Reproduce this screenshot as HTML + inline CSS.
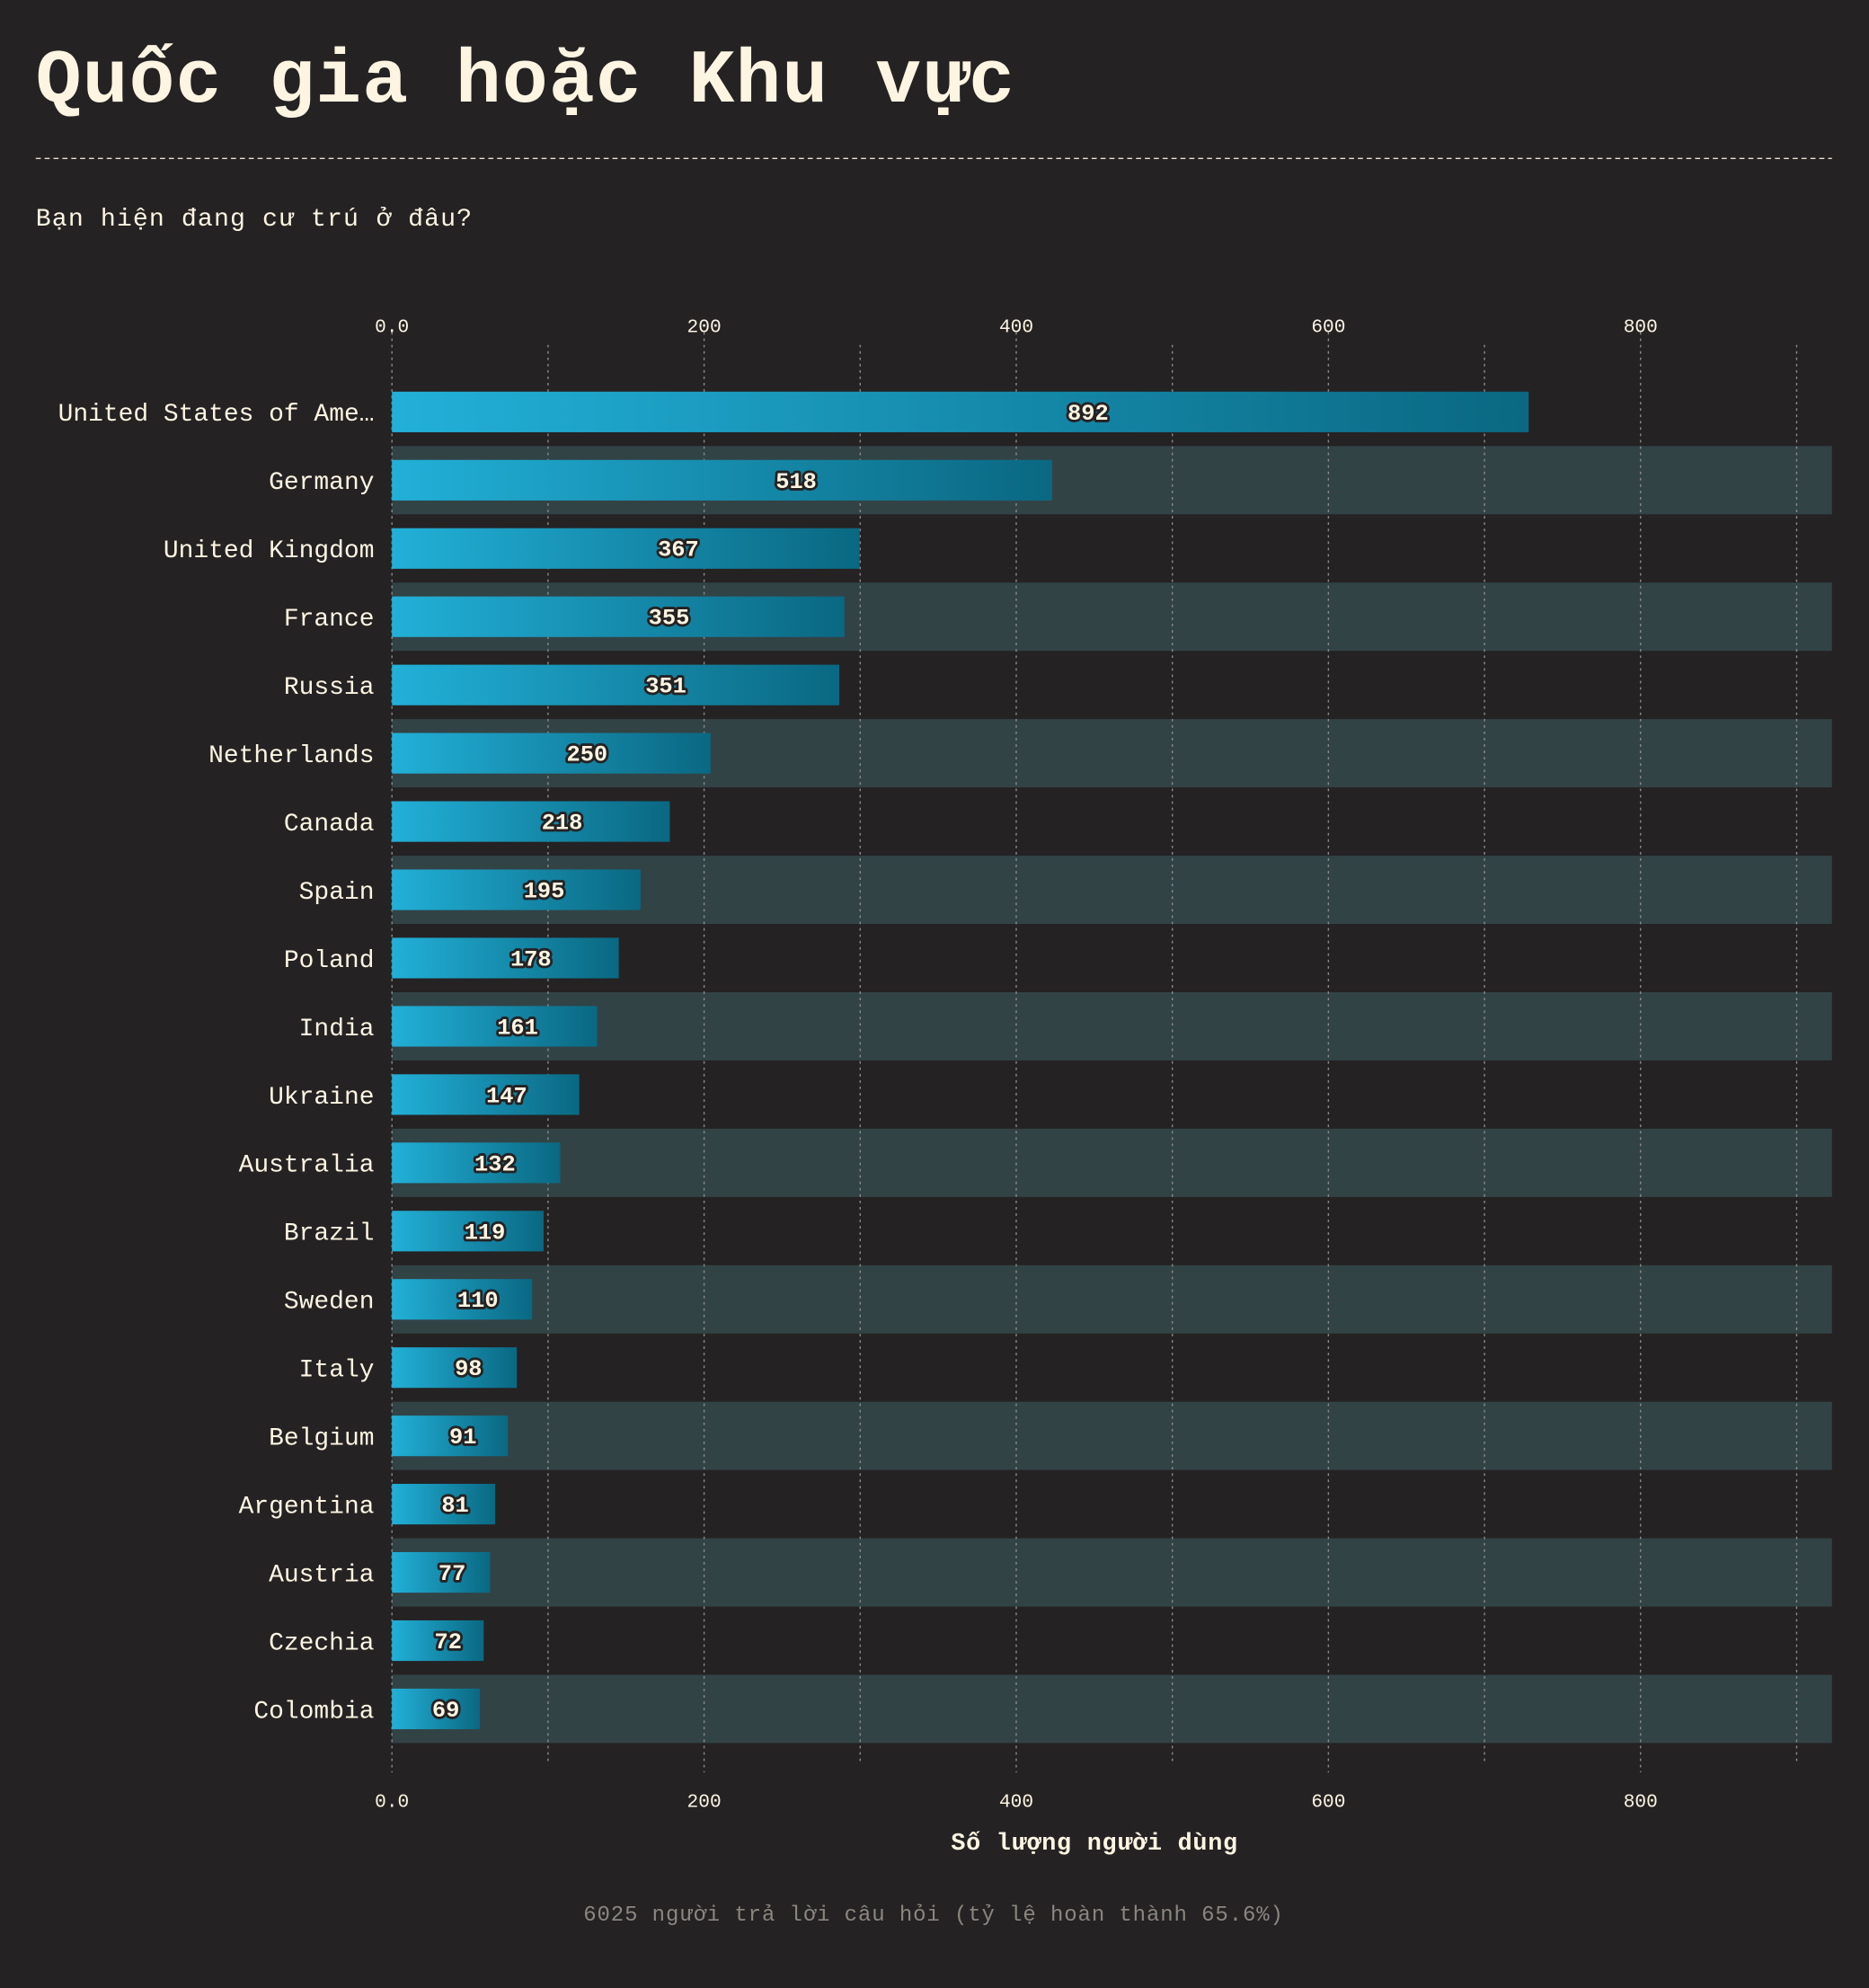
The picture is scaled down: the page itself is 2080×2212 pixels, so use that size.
<!DOCTYPE html>
<html><head><meta charset="utf-8">
<style>
html,body{margin:0;padding:0;background:#252223;}
svg{display:block;}
text{font-family:"Liberation Mono","DejaVu Sans Mono",monospace;fill:#fdf5e2;}
</style></head>
<body>
<svg id="chart" width="2080" height="2212" viewBox="0 0 1474 1568" xmlns="http://www.w3.org/2000/svg">
<defs>
<linearGradient id="barGrad" x1="0" y1="0" x2="1" y2="0">
<stop offset="0" stop-color="#22b0d8"/>
<stop offset="1" stop-color="#0a6882"/>
</linearGradient>
</defs>
<rect x="0" y="0" width="1474" height="1568" fill="#252223"/>
<text x="28" y="80" font-size="60" font-weight="bold" textLength="772">Quốc gia hoặc Khu vực</text>
<line x1="28" y1="125" x2="1445" y2="125" stroke="#e8e0d0" stroke-width="1" stroke-dasharray="4,3"/>
<text x="28" y="178" font-size="20" textLength="344">Bạn hiện đang cư trú ở đâu?</text>
<g id="stripes"></g>
<g id="grid"></g>
<g id="bars"></g>
<g id="labels"></g>
<text x="863" y="1459" font-size="19" font-weight="bold" text-anchor="middle" textLength="226">Số lượng người dùng</text>
<text x="736" y="1515" font-size="17" fill="#8a8680" style="fill:#8a8680" text-anchor="middle" textLength="552">6025 người trả lời câu hỏi (tỷ lệ hoàn thành 65.6%)</text>
</svg>
<script>
const categories = ["United States of Ame…","Germany","United Kingdom","France","Russia","Netherlands","Canada","Spain","Poland","India","Ukraine","Australia","Brazil","Sweden","Italy","Belgium","Argentina","Austria","Czechia","Colombia"];
const values = [892,518,367,355,351,250,218,195,178,161,147,132,119,110,98,91,81,77,72,69];
const tickValues = [0,200,400,600,800];
const tickLabels = ["0.0","200","400","600","800"];
const minorGrid = [100,300,500,700,900];

const NS = "http://www.w3.org/2000/svg";
const x0 = 309, pxPerUnit = 1.23125, plotRight = 1445;
const barScale = 0.8165;
const rowTop = 298, rowH = 53.84, barH = 32;
const gridTop = 265, gridBottom = 1395;
function xScale(v){ return x0 + v * pxPerUnit; }
function yCenter(i){ return rowTop + rowH * i + rowH / 2; }
function mk(tag, attrs, parent){
  const e = document.createElementNS(NS, tag);
  for (const k in attrs) e.setAttribute(k, attrs[k]);
  parent.appendChild(e);
  return e;
}
const stripes = document.getElementById('stripes');
const grid = document.getElementById('grid');
const bars = document.getElementById('bars');
const labels = document.getElementById('labels');

categories.forEach((c, i) => {
  if (i % 2 === 1) {
    const s = mk('rect', {x: x0, y: yCenter(i) - rowH/2, width: plotRight - x0, height: rowH, fill: '#324346'}, stripes);
    
    
  }
});

tickValues.forEach((v, i) => {
  const l = mk('line', {x1: xScale(v), x2: xScale(v), y1: gridTop - 3, y2: gridBottom + 3, stroke: '#8a8a8a', 'stroke-width': 1, 'stroke-dasharray': '2,3'}, grid);
  
  
  const t1 = mk('text', {x: xScale(v), y: 262, 'font-size': 15, 'text-anchor': 'middle'}, grid);
  t1.textContent = tickLabels[i];
  
  
  const t2 = mk('text', {x: xScale(v), y: 1425, 'font-size': 15, 'text-anchor': 'middle'}, grid);
  t2.textContent = tickLabels[i];
  
  
});
minorGrid.forEach(v => {
  const l = mk('line', {x1: xScale(v), x2: xScale(v), y1: gridTop + 7, y2: gridBottom - 3, stroke: '#8a8a8a', 'stroke-width': 1, 'stroke-dasharray': '2,3'}, grid);
  
  
});

categories.forEach((c, i) => {
  const cy = yCenter(i);
  const b = mk('rect', {x: x0, y: cy - barH/2, width: values[i] * barScale * pxPerUnit, height: barH, fill: 'url(#barGrad)'}, bars);
  
  
  const lab = mk('text', {x: 295, y: cy + 7, 'font-size': 19.8, 'text-anchor': 'end'}, labels);
  lab.textContent = c;
  
  
  const vl = mk('text', {x: xScale(values[i] / 2), y: cy + 6, 'font-size': 18, 'font-weight': 'bold', 'text-anchor': 'middle', stroke: '#252223', 'stroke-width': 4, 'paint-order': 'stroke', 'stroke-linejoin': 'round'}, labels);
  vl.textContent = values[i];
  
  
});
</script>
</body></html>
